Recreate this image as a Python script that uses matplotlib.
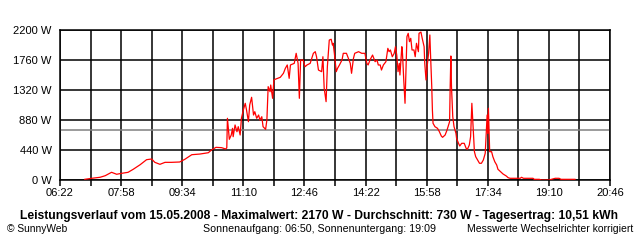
import matplotlib
matplotlib.use("Agg")
import matplotlib.pyplot as plt

# ── data ───────────────────────────────────────────────────────
# time of day in minutes after midnight, power in W
minutes = [421, 432, 445, 453, 463, 471, 479, 489, 497, 508, 518, 526, 531, 539,
           547, 557, 570, 578, 589, 602, 615, 620, 627, 636, 642, 644,
           645, 648, 651, 653, 654, 657, 660, 662, 665, 667, 670, 673, 675, 678,
           680, 683, 686, 688, 691, 694, 696, 699, 701, 705, 707, 709, 712, 713,
           716, 718, 720, 728, 733, 736, 739, 742, 744, 750, 753, 756, 758, 760,
           764, 766, 767, 770, 775, 780, 783, 785, 788, 793, 795, 797, 800, 802,
           805, 808, 810, 811, 813, 816, 818, 821, 825, 827, 832, 835, 838, 840,
           843, 845, 851, 856, 861, 864, 866, 869, 873, 877, 880, 882, 885, 887,
           890, 894, 897, 899, 901, 904, 907, 909, 911, 913, 915, 916, 919, 920,
           922, 924, 927, 929, 931, 933, 935, 938, 940, 942, 945, 946, 949, 951,
           954, 955, 957, 959, 961, 962, 963, 964, 966, 967, 968, 971, 975, 978,
           981, 983, 987, 990, 994, 995, 996, 997, 999, 1001, 1004, 1005, 1008,
           1010, 1013, 1017, 1020, 1022, 1025, 1027, 1029, 1030, 1031, 1033, 1035,
           1038, 1041, 1044, 1047, 1050, 1051, 1053, 1054, 1055, 1056, 1057, 1060,
           1062, 1065, 1068, 1070, 1074, 1078, 1083, 1086, 1089, 1105, 1107, 1110,
           1125, 1127, 1135, 1138, 1150, 1154, 1160, 1166, 1169, 1191]
watts = [10, 25, 40, 63, 113, 84, 98, 113, 157, 225, 298, 308, 259, 230,
         259, 259, 264, 303, 371, 381, 400, 440, 479, 474, 455, 470,
         905, 597, 660, 758, 635, 807, 708, 782, 660, 905, 1027, 1125, 1027, 855,
         1100, 1213, 953, 1002, 905, 953, 880, 928, 782, 743, 880, 1369, 1295, 1393,
         1198, 1467, 1477, 1506, 1565, 1638, 1687, 1491, 1687, 1711, 1858, 1711, 1198, 1760,
         1760, 1687, 1662, 1687, 1711, 1858, 1882, 1808, 1613, 1589, 1808, 1345, 1149, 1662,
         2053, 2064, 1980, 2005, 1858, 1589, 1638, 1687, 1760, 1858, 1858, 1785, 1711, 1565,
         1785, 1858, 1882, 1858, 1858, 1711, 1687, 1760, 1833, 1735, 1760, 1687, 1687, 1613,
         1687, 1735, 1931, 1882, 1907, 1808, 1858, 1955, 1833, 1589, 1711, 1540, 1955, 1858,
         1467, 1125, 2102, 2151, 2029, 2078, 1907, 1907, 1808, 2005, 1882, 2151, 2170, 2078,
         1955, 1711, 1467, 1687, 1858, 2005, 2127, 1858, 1369, 1027, 832, 782, 758, 708,
         645, 626, 660, 733, 855, 1393, 1819, 1369, 928, 782, 685, 612, 538,
         499, 538, 538, 465, 450, 513, 635, 1125, 953, 782, 415, 342,
         293, 245, 245, 293, 392, 587, 953, 685, 1052, 733, 415, 415,
         342, 268, 220, 157, 122, 88, 59, 34, 25, 25, 40, 25,
         25, 10, 10, 0, 0, 10, 25, 25, 10, 10]

average = 730
x_ticks = ["06:22", "07:58", "09:34", "11:10", "12:46", "14:22", "15:58", "17:34", "19:10", "20:46"]
y_ticks = [0, 440, 880, 1320, 1760, 2200]

title = ("Leistungsverlauf vom 15.05.2008 - Maximalwert: 2170 W - "
         "Durchschnitt: 730 W - Tagesertrag: 10,51 kWh")
sun = "Sonnenaufgang: 06:50, Sonnenuntergang: 19:09"
note = "Messwerte Wechselrichter korrigiert"


def hm(s):
    h, m = s.split(":")
    return int(h) * 60 + int(m)


plt.rcParams["font.family"] = ["Liberation Sans", "DejaVu Sans"]

fig = plt.figure(figsize=(6.4, 2.4), dpi=100)
fig.patch.set_facecolor("white")
ax = fig.add_axes([60 / 640, 60 / 240, 550 / 640, 150 / 240])

t0, t1 = hm(x_ticks[0]), hm(x_ticks[-1])
major = [hm(s) for s in x_ticks]
minor = [(a + b) / 2 for a, b in zip(major[:-1], major[1:])]

ax.set_xlim(t0, t1)
ax.set_ylim(0, y_ticks[-1])

for v in major + minor:
    ax.axvline(v, color="black", lw=1.1, zorder=1)
for v in y_ticks:
    ax.axhline(v, color="black", lw=1.1, zorder=1)
ax.axhline(average, color="#808080", lw=1.1, zorder=2)

ax.plot(minutes, watts, color="#ff0000", lw=0.9, zorder=3)

ax.set_xticks(major)
ax.set_xticklabels(x_ticks)
ax.set_xticks(minor, minor=True)
ax.set_yticks(y_ticks)
ax.set_yticklabels([f"{v} W" for v in y_ticks])
ax.tick_params(axis="x", which="both", length=4, width=1.1, pad=2, labelsize=8)
ax.tick_params(axis="y", length=0, pad=6, labelsize=8)
for sp in ax.spines.values():
    sp.set_linewidth(1.1)
    sp.set_color("black")

fig.text(319 / 640, 1 - 216 / 240, title, ha="center", va="center",
         fontsize=8.75, fontweight="bold")
fig.text(7 / 640, 1 - 229.5 / 240, "\u00a9 SunnyWeb", ha="left", va="center", fontsize=7.4)
fig.text(319.5 / 640, 1 - 229.5 / 240, sun, ha="center", va="center", fontsize=7.7)
fig.text(633 / 640, 1 - 229.5 / 240, note, ha="right", va="center", fontsize=7.5)

fig.savefig("out.png", dpi=100, facecolor="white")
